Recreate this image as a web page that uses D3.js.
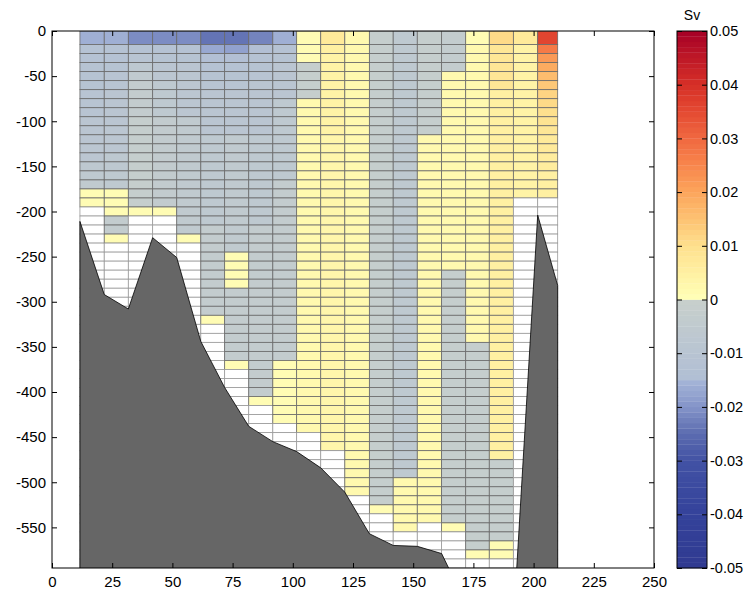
<!DOCTYPE html>
<html><head><meta charset="utf-8">
<script src="https://cdn.jsdelivr.net/npm/d3@7"></script>
<style>body{margin:0;background:#fff} svg{display:block} text{font-family:"Liberation Sans",Arial,sans-serif}</style>
</head><body><svg id="c" width="746" height="593"></svg>
<script>
// ---- data ----
const xEdges = [11.6,21.7,31.7,41.8,51.8,61.8,71.7,81.7,91.7,101.6,111.6,121.6,131.8,141.7,151.7,161.8,171.8,181.6,191.6,201.7,210.0];
const depthEdges = [0,-15,-25,-35,-45,-55,-65,-75,-85,-95,-105,-115,-125,-135,-145,-155,-165,-175,-185,-195,-205,-215,-225,-235,-245,-255,-265,-275,-285,-295,-305,-315,-325,-335,-345,-355,-365,-375,-385,-395,-405,-415,-425,-435,-445,-455,-465,-475,-485,-495,-505,-515,-525,-535,-545,-555,-565,-575,-585,-595];
const bathyDepth = [-211,-292,-308,-229,-251,-344,-395,-438,-455,-466,-484,-511,-557,-570,-571,-579,-634,-700,-658,-204,-282];
// transport per cell, in 1e-3 Sv, top row first (missing = no data)
const col00 = [-16,-12,-12,-11,-11,-11,-10,-10,-10,-9,-9,-9,-8,-8,-7,-6,-5,1,1];
const col01 = [-16,-12,-12,-11,-10,-10,-9,-9,-9,-9,-8,-8,-8,-7,-7,-6,-6,1,1,1,-3,-3,1];
const col02 = [-21,-12,-10,-7,-5,-3,-3,-3,-3,-2,-2,-2,-2,-2,-2,-2,-2,-2,-2,1];
const col03 = [-21,-12,-11,-9,-8,-6,-6,-6,-6,-4,-4,-4,-4,-4,-4,-4,-4,-4,-4,1];
const col04 = [-21,-12,-11,-9,-8,-8,-8,-8,-8,-5,-5,-5,-5,-5,-5,-5,-5,-5,-5,-5,-5,-5,1];
const col05 = [-24,-17,-14,-12,-11,-10,-9,-9,-9,-9,-9,-6,-6,-6,-6,-6,-6,-6,-6,-6,-6,-3,-3,-3,-3,-3,-3,-3,-3,-3,-3,1];
const col06 = [-24,-18,-14,-12,-11,-10,-9,-9,-9,-9,-9,-5,-5,-5,-5,-5,-5,-5,-5,-5,-5,-5,-5,-5,1,1,1,1,-3,-3,-3,-3,-3,-3,-3,-3,1];
const col07 = [-22,-14,-12,-11,-10,-9,-9,-9,-9,-9,-9,-6,-6,-6,-6,-6,-6,-6,-6,-6,-6,-3,-3,-3,-3,-3,-3,-3,-3,-3,-3,-3,-3,-3,-3,-3,-3,-3,-3,-3,1];
const col08 = [-16,-12,-11,-9,-9,-9,-9,-6,-6,-6,-6,-6,-6,-6,-6,-6,-3,-3,-3,-3,-3,-3,-3,-3,-3,-3,-3,-3,-3,-3,-3,-3,-3,-3,-3,-3,1,1,1,1,1,1,1];
const col09 = [1,1,1,-2,-2,-2,-2,2,2,2,2,2,2,2,2,2,2,2,2,2,2,2,2,2,2,2,2,2,2,2,2,2,2,2,2,2,2,2,2,2,2,2,2,2];
const col10 = [7,5,4,4,4,4,4,4,4,4,4,3,3,3,3,3,3,3,3,3,3,3,3,3,3,3,3,3,3,3,3,3,3,3,3,3,3,3,3,3,3,3,3,3,3,3];
const col11 = [2,2,2,2,2,2,2,2,2,2,2,2,2,2,2,2,2,2,2,2,2,2,2,2,2,2,2,2,2,2,2,2,2,2,2,2,2,2,2,2,2,2,2,2,2,2,2,2,2,2,2];
const col12 = [-2,-2,-2,-2,-2,-2,-2,-2,-2,-2,-2,-2,-2,-2,-2,-2,-2,-2,-2,-2,-2,-2,-2,-2,-2,-2,-2,-2,-2,-2,-2,-2,-2,-2,-2,-2,-2,-2,-2,-2,-2,-2,-2,-2,-2,-2,-2,-2,-2,-2,-2,-2,1];
const col13 = [-6,-6,-6,-6,-6,-6,-6,-6,-6,-6,-6,-6,-6,-6,-6,-6,-6,-6,-6,-6,-6,-6,-6,-6,-6,-6,-6,-6,-6,-6,-6,-6,-6,-6,-6,-6,-6,-6,-6,-6,-6,-6,-6,-6,-6,-6,-6,-6,-6,2,2,2,2,2,2];
const col14 = [-2,-2,-2,-2,-2,-2,-2,-2,-2,-2,-2,2,2,2,2,2,2,2,2,2,2,2,2,2,2,2,2,2,2,2,2,2,2,2,2,2,2,2,2,2,2,2,2,2,2,2,2,2,2,2,2,2,2,2];
const col15 = [-3,-3,-3,-3,2,2,2,2,2,2,2,2,2,2,2,2,2,2,2,2,2,2,2,2,2,2,-2,-2,-2,-2,-2,-2,-2,-2,-2,-2,-2,-2,-2,-2,-2,-2,-2,-2,-2,-2,-2,-2,-2,-2,-2,-2,-2,-2,1];
const col16 = [1,2,2,2,2,2,2,2,2,2,2,2,2,2,2,2,2,2,2,2,2,2,2,2,2,2,2,2,2,2,2,2,2,2,-2,-2,-2,-2,-2,-2,-2,-2,-2,-2,-2,-2,-2,-2,-2,-2,-2,-2,-2,-2,-2,-2,-2,1];
const col17 = [11,8,8,8,8,8,5,5,5,5,5,5,5,5,5,5,5,5,5,5,5,5,5,5,5,5,5,5,5,5,5,5,5,5,5,5,5,5,5,5,5,5,5,5,5,5,5,-2,-2,-2,-2,-2,-2,-2,-2,-2,1,1];
const col18 = [7,4,4,4,4,4,4,4,4,4,4,4,4,4,4,4,4,4];
const col19 = [36,27,22,19,16,14,12,11,10,9,8,7,7,6,6,5,5,5];
const columns = [col00,col01,col02,col03,col04,col05,col06,col07,col08,col09,col10,col11,col12,col13,col14,col15,col16,col17,col18,col19];
const xTicks = [0,25,50,75,100,125,150,175,200,225,250];
const yTicks = [0,-50,-100,-150,-200,-250,-300,-350,-400,-450,-500,-550];
const cbTicks = [0.05,0.04,0.03,0.02,0.01,0,-0.01,-0.02,-0.03,-0.04,-0.05];
// colormap (value in Sv -> colour)
const cmapStops  = [-0.05,-0.04,-0.03,-0.025,-0.02,-0.0155,-0.015,-0.01,-0.005,-0.00001,0,0.005,0.01,0.015,0.02,0.025,0.03,0.035,0.04,0.045,0.05];
const cmapColors = ["#303a90","#34429a","#4252a4","#5c6cb0","#8494c8","#a2b2d6","#b0bed4","#b8c4d2","#c0cacf","#c8d0cc","#ffffb8","#fff0a2","#fee08e","#fdc272","#fca55c","#f8864c","#f06840","#e44a32","#d62f27","#be1827","#a50026"];

// ---- drawing ----
const svg = d3.select("#c");
const L=52,R=654,T=31,B=568;
const x = d3.scaleLinear().domain([0,250]).range([L,R]);
const y = d3.scaleLinear().domain([-595,0]).range([B,T]);
const cmap = d3.scaleLinear().domain(cmapStops).range(cmapColors).clamp(true);

svg.append("clipPath").attr("id","clip").append("rect").attr("x",L).attr("y",T).attr("width",R-L).attr("height",B-T);
const g = svg.append("g").attr("clip-path","url(#clip)");

const cells = [];
columns.forEach((col,i)=>{
  for(let k=0;k<depthEdges.length-1;k++){
    const v = col[k];
    cells.push({i,k,v:(v===undefined||v===null)?NaN:v/1000});
  }
});
g.selectAll("rect.cell").data(cells).join("rect").attr("class","cell")
  .attr("x",d=>x(xEdges[d.i])).attr("width",d=>x(xEdges[d.i+1])-x(xEdges[d.i]))
  .attr("y",d=>y(depthEdges[d.k])).attr("height",d=>y(depthEdges[d.k+1])-y(depthEdges[d.k]))
  .attr("fill",d=>isNaN(d.v)?"#ffffff":cmap(d.v))
  .attr("stroke",d=>isNaN(d.v)?"#9a9a9a":"#6a6a6a").attr("stroke-width",0.8);

// bathymetry
const bpts = [[xEdges[0],-800]].concat(xEdges.map((xe,i)=>[xe,bathyDepth[i]])).concat([[xEdges[xEdges.length-1],-800]]);
g.append("path").attr("d",d3.line().x(p=>x(p[0])).y(p=>y(p[1]))(bpts)+"Z")
  .attr("fill","#666666").attr("stroke","#000").attr("stroke-width",0.8);

// axes
const fmt = d=>String(d);
function styleAx(sel){sel.selectAll("text").attr("font-size",15).attr("fill","#000").attr("font-family","Liberation Sans, Arial, sans-serif");sel.select(".domain").remove();sel.selectAll("line").attr("stroke","#000");}
svg.append("g").attr("transform",`translate(${L},0)`).call(d3.axisLeft(y).tickValues(yTicks).tickFormat(fmt).tickSize(-5).tickPadding(6)).call(styleAx);
svg.append("g").attr("transform",`translate(${R},0)`).call(d3.axisRight(y).tickValues(yTicks).tickFormat("").tickSize(-5)).call(styleAx);
svg.append("g").attr("transform",`translate(0,${B})`).call(d3.axisBottom(x).tickValues(xTicks).tickFormat(fmt).tickSize(-5).tickPadding(8)).call(styleAx);
svg.append("g").attr("transform",`translate(0,${T})`).call(d3.axisTop(x).tickValues(xTicks).tickFormat("").tickSize(-5)).call(styleAx);
svg.append("rect").attr("x",L).attr("y",T).attr("width",R-L).attr("height",B-T).attr("fill","none").attr("stroke","#000").attr("stroke-width",1);

// colour bar
const CL=677,CR=707;
const cb = d3.scaleLinear().domain([-0.05,0.05]).range([B,T]);
const bands = d3.range(100).map(j=>-0.05+j*0.001);
svg.selectAll("rect.band").data(bands).join("rect").attr("class","band")
  .attr("x",CL).attr("width",CR-CL).attr("y",d=>cb(d+0.001)).attr("height",d=>cb(d)-cb(d+0.001)+0.3)
  .attr("fill",d=>cmap(d+0.0005));
svg.append("g").attr("transform",`translate(${CR},0)`).call(d3.axisRight(cb).tickValues(cbTicks).tickFormat(fmt).tickSize(5).tickPadding(4)).call(styleAx)
  .call(s=>{s.selectAll("line").attr("x2",-5); s.selectAll("text").attr("x",3).attr("font-size",14.5);});
svg.append("g").attr("transform",`translate(${CL},0)`).call(d3.axisRight(cb).tickValues(cbTicks).tickFormat("").tickSize(5)).call(styleAx);
svg.append("rect").attr("x",CL).attr("y",T).attr("width",CR-CL).attr("height",B-T).attr("fill","none").attr("stroke","#000").attr("stroke-width",1);
svg.append("text").attr("x",(CL+CR)/2).attr("y",20).attr("text-anchor","middle").attr("font-size",14).text("Sv");
</script></body></html>
